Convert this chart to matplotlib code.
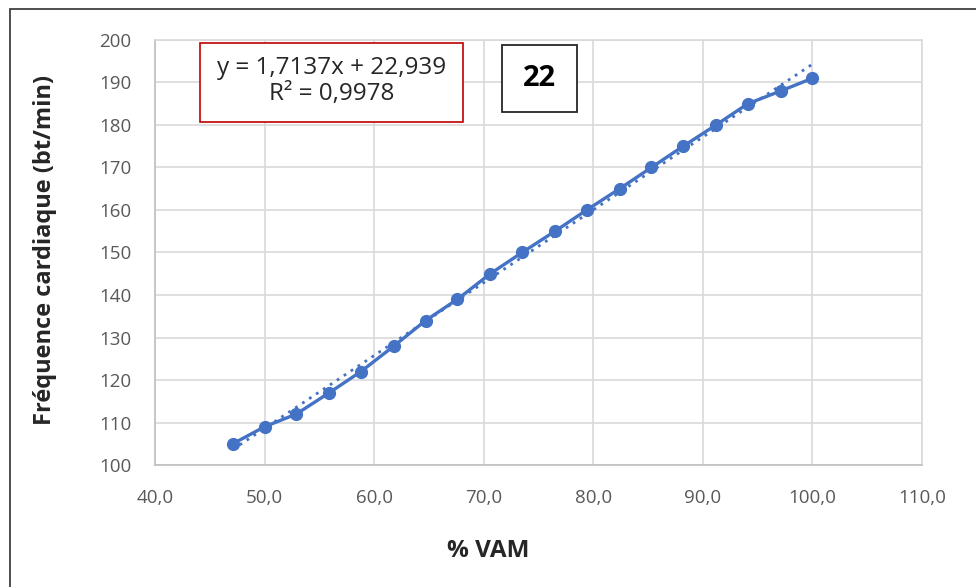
import numpy as np
import matplotlib.pyplot as plt
from matplotlib.patches import Rectangle

plt.rcParams['font.family'] = ['Open Sans', 'DejaVu Sans']

# % VAM and heart rate per stage
vam = [47.1, 50.0, 52.9, 55.9, 58.8, 61.8, 64.7, 67.6, 70.6, 73.5,
       76.5, 79.4, 82.4, 85.3, 88.2, 91.2, 94.1, 97.1, 100.0]
fc = [105, 109, 112, 117, 122, 128, 134, 139, 145, 150,
      155, 160, 165, 170, 175, 180, 185, 188, 191]

# linear trend shown on the chart
slope, intercept = 1.7137, 22.939
r2 = 0.9978
label_num = "22"

blue = '#4472c4'
grid = '#d9d9d9'
txt = '#595959'

fig = plt.figure(figsize=(9.76, 5.87), dpi=100)
ax = fig.add_axes([0.1588, 0.2078, 0.7859, 0.7241])

ax.plot(vam, fc, color=blue, lw=2.4, marker='o', ms=8.5, zorder=3)
xt = np.array([vam[0], vam[-1]])
ax.plot(xt, slope * xt + intercept, color=blue, lw=2, ls=(0, (1, 2)), zorder=2)

ax.set_xlim(40, 110)
ax.set_ylim(100, 200)
ax.set_xticks(np.arange(40, 111, 10))
ax.set_yticks(np.arange(100, 201, 10))
ax.set_xticklabels([f"{v:.1f}".replace('.', ',') for v in np.arange(40, 111, 10)])
ax.grid(True, color=grid, lw=1.2)
ax.set_axisbelow(True)
for s in ax.spines.values():
    s.set_color(grid)
    s.set_linewidth(1.2)
ax.spines['left'].set_color('#bfbfbf')
ax.spines['bottom'].set_color('#bfbfbf')
ax.tick_params(length=0, labelsize=13.5, colors=txt)
ax.tick_params(axis='y', pad=17)
ax.tick_params(axis='x', pad=17)

ax.set_xlabel("% VAM", fontsize=17.5, fontweight='bold', color='#262626')
ax.set_ylabel("Fréquence cardiaque (bt/min)", fontsize=17, fontweight='bold',
              color='#262626')
ax.xaxis.set_label_coords(488 / 976, 1 - 551 / 587, transform=fig.transFigure)
ax.xaxis.label.set_va('center')
ax.yaxis.set_label_coords(45 / 976, 1 - 250 / 587, transform=fig.transFigure)
ax.yaxis.label.set_va('center')

eq = f"y = {slope:.4f}x + {intercept:.3f}".replace('.', ',') + "\n" + \
     f"R² = {r2:.4f}".replace('.', ',')
fig.text(332 / 976, 1 - 81 / 587, eq, ha='center', va='center', fontsize=17.5,
         color='#262626', linespacing=1.1)
fig.patches.append(Rectangle((200 / 976, 1 - 122 / 587), 263 / 976, 79 / 587,
                             transform=fig.transFigure, fill=True, fc='white',
                             ec='#c00000', lw=1.2, zorder=1))
fig.patches.append(Rectangle((502 / 976, 1 - 112 / 587), 75 / 976, 67 / 587,
                             transform=fig.transFigure, fill=True, fc='white',
                             ec='#262626', lw=1.3, zorder=1))
fig.text(539 / 976, 1 - 79 / 587, label_num, ha='center', va='center',
         fontsize=21, fontweight='bold', color='black')

# outer frame
fig.patches.append(Rectangle((10 / 976, -0.05), 1.0, 1 - 9 / 587 + 0.05,
                             transform=fig.transFigure, fill=False,
                             ec='#404040', lw=1.3, zorder=0))

fig.savefig('out.png', dpi=100)
